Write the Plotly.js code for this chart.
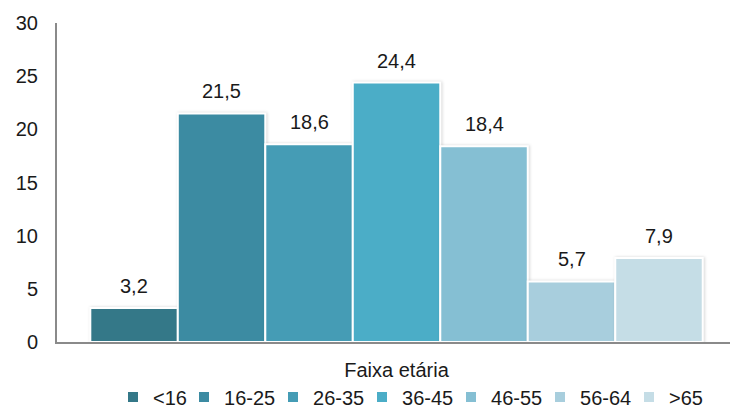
<!DOCTYPE html>
<html>
<head>
<meta charset="utf-8">
<script src="https://cdn.plot.ly/plotly-3.0.1.min.js"></script>
<style>
  html, body { margin: 0; padding: 0; background: #ffffff; }
  #chart { width: 730px; height: 410px; }
  /* soft shadow beside each bar */
  #chart .barlayer .point path { filter: drop-shadow(1.5px 0px 1.5px rgba(0, 0, 0, 0.16)); }
</style>
</head>
<body>
<div id="chart"></div>
<script>
// Age-group distribution (%), one series per age band
const category = 'Faixa etária';
const groups = ['<16', '16-25', '26-35', '36-45', '46-55', '56-64', '>65'];
const values = [3.2, 21.5, 18.6, 24.4, 18.4, 5.7, 7.9];
const colors = ['#347888', '#3c8ba2', '#459cb5', '#4badc7', '#85bfd3', '#a8cedd', '#c5dde6'];
const yTicks = [0, 5, 10, 15, 20, 25, 30];

const BAR_GAP = 0.09;
const FONT = 'Arial, "Liberation Sans", sans-serif';
const FONT_SIZE = 20;
const TEXT_COLOR = '#1a1a1a';

// legend entry widths: compact spacing between entries, full width for the last one
const legendWidths = groups.map((g, i) =>
  i === groups.length - 1 ? 40 : (g.length > 3 ? 44 : 26));

const traces = groups.map((g, i) => ({
  type: 'bar',
  name: g,
  x: [category],
  y: [values[i]],
  marker: { color: colors[i], line: { color: '#ffffff', width: 2 } },
  legendwidth: legendWidths[i],
  hoverinfo: 'name+y'
}));

// value labels above each bar, placed at the bar's offset within the group
const barWidth = (1 - BAR_GAP) / groups.length;
const labels = values.map((v, i) => ({
  xref: 'x', yref: 'y',
  x: (i - (groups.length - 1) / 2) * barWidth,
  y: v,
  yanchor: 'bottom',
  yshift: 9,
  text: v.toFixed(1).replace('.', ','),
  showarrow: false,
  font: { family: FONT, size: FONT_SIZE, color: TEXT_COLOR }
}));

const layout = {
  width: 730,
  height: 410,
  margin: { l: 57, r: 0, t: 23, b: 68 },
  paper_bgcolor: '#ffffff',
  plot_bgcolor: '#ffffff',
  font: { family: FONT, size: FONT_SIZE, color: TEXT_COLOR },
  barmode: 'group',
  bargap: BAR_GAP,
  bargroupgap: 0,
  showlegend: true,
  legend: {
    orientation: 'h',
    xref: 'container', yref: 'container',
    x: 0.1548, xanchor: 'left',
    y: 0.0317, yanchor: 'middle',
    bgcolor: 'rgba(0,0,0,0)',
    font: { family: FONT, size: FONT_SIZE, color: TEXT_COLOR },
    itemwidth: 30,
    tracegroupgap: 0
  },
  xaxis: {
    type: 'category',
    range: [-0.5045, 0.4955],
    showline: true,
    linecolor: '#8a8a8a',
    linewidth: 2,
    ticks: '',
    showgrid: false,
    zeroline: false,
    ticklabelstandoff: 9,
    tickfont: { family: FONT, size: FONT_SIZE, color: TEXT_COLOR },
    fixedrange: true
  },
  yaxis: {
    range: [0, 30],
    tickvals: yTicks,
    showline: true,
    linecolor: '#8a8a8a',
    linewidth: 2,
    ticks: '',
    showgrid: false,
    zeroline: false,
    ticklabelstandoff: 13,
    tickfont: { family: FONT, size: FONT_SIZE, color: TEXT_COLOR },
    fixedrange: true
  },
  annotations: labels
};

Plotly.newPlot('chart', traces, layout, { displayModeBar: false, staticPlot: true });
</script>
</body>
</html>
